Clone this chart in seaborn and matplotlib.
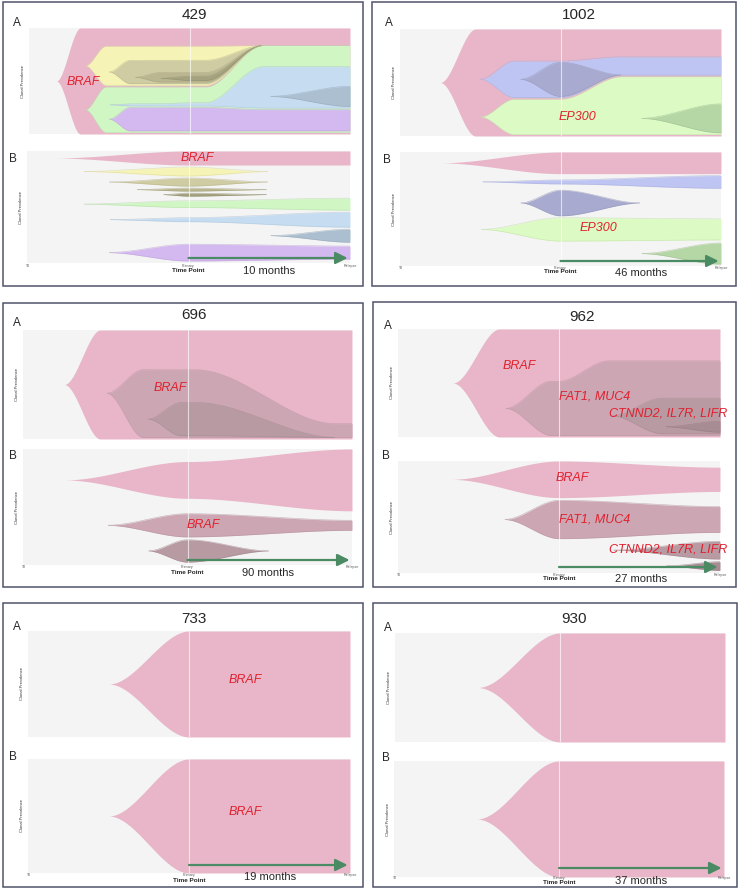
"""
Clonal evolution fish plots for six patients.
A: nested clonal prevalence, B: every clone on its own track.
Time axis: 0 = T0, 1 = Primary, 2 = Relapse.
"""

import numpy as np
import matplotlib
matplotlib.use('Agg')
import matplotlib.pyplot as plt
import seaborn as sns
from matplotlib.patches import Rectangle
from matplotlib.colors import to_rgb

nan = np.nan

# --- 1. Data ---

# patient 429
p429_knots = [0.17, 0.32, 0.35, 0.48, 0.50, 0.63, 0.66, 0.82, 1.0, 1.1, 1.46, 1.5, 2.0]
p429_parents = [-1, 0, 1, 2, 3, 0, 5, 6, 5]
p429_prev = [
    [0, 1, 1, 1, 1, 1, 1, 1, 1, 1, 1, 1, 1],
    [0, 0, 0, .37, .37, .37, .37, .37, .37, .37, 0, 0, 0],
    [0, 0, 0, 0, 0, .22, .22, .22, .22, .22, 0, 0, 0],
    [0, 0, 0, 0, 0, 0, 0, .09, .09, .09, 0, 0, 0],
    [0, 0, 0, 0, 0, 0, 0, 0, .04, .04, 0, 0, 0],
    [0, 0, 0, .43, .43, .43, .43, .43, .43, .43, .82, .82, .82],
    [0, 0, 0, 0, 0, .02, .02, .02, .03, .03, .39, .39, .39],
    [0, 0, 0, 0, 0, 0, 0, 0, 0, 0, 0, 0, .19],
    [0, 0, 0, 0, 0, .22, .22, .22, .22, .22, .2, .2, .2],
]
p429_b_start = [0.165, 0.34, 0.5, 0.67, 0.84, 0.34, 0.5, 1.5, 0.5]
p429_b_primary = [0.125, 0.08, 0.072, 0.027, 0.027, 0.06, 0.036, 0, 0.15]
p429_b_relapse = [0.125, 0, 0, 0, 0, 0.107, 0.134, 0.116, 0.116]
p429_b_end = [nan, 1.5, 1.5, 1.5, 1.5, nan, nan, nan, nan]
p429_colors = ['#E8B6C8', '#F6F3B6', '#CFCCA3', '#B9B690', '#A4A27F',
               '#D0F6C4', '#C6DDF1', '#ABBFD0', '#D4B8F0']
p429_months = 10

# patient 1002
p1002_knots = [0.25, 0.47, 0.50, 0.71, 0.75, 1.0, 1.38, 1.5, 2.0]
p1002_parents = [-1, 0, 1, 0, 3]
p1002_prev = [
    [0, 1, 1, 1, 1, 1, 1, 1, 1],
    [0, 0, 0, .34, .34, .34, .17, .17, .17],
    [0, 0, 0, 0, 0, .32, 0, 0, 0],
    [0, 0, 0, .33, .33, .33, .54, .54, .54],
    [0, 0, 0, 0, 0, 0, 0, 0, .27],
]
p1002_b_start = [0.25, 0.5, 0.75, 0.5, 1.5]
p1002_b_primary = [0.19, 0.035, 0.225, 0.205, 0]
p1002_b_relapse = [0.19, 0.111, 0, 0.185, 0.185]
p1002_b_end = [nan, nan, 1.5, nan, nan]
p1002_colors = ['#E8B6C8', '#BFC5F2', '#A8ABCF', '#DCFAC3', '#B5D6A5']
p1002_months = 46

# patient 696
p696_knots = [0.25, 0.47, 0.51, 0.73, 0.76, 0.96, 1.05, 1.9, 2.0]
p696_parents = [-1, 0, 1]
p696_prev = [
    [0, 1, 1, 1, 1, 1, 1, 1, 1],
    [0, 0, 0, .62, .62, .62, .62, .125, .125],
    [0, 0, 0, 0, 0, .305, .305, 0, 0],
]
p696_emerge = [nan, 0.58, nan]
p696_b_start = [0.25, 0.51, 0.76]
p696_b_primary = [0.317, 0.2, 0.193]
p696_b_relapse = [0.533, 0.086, 0]
p696_b_end = [nan, nan, 1.5]
p696_colors = ['#E8B6C8', '#CCA7B3', '#B89AA3']
p696_months = 90

# patient 962
p962_knots = [0.34, 0.63, 0.67, 0.95, 1.0, 1.31, 1.33, 1.64, 1.66, 2.0]
p962_parents = [-1, 0, 1, 2]
p962_prev = [
    [0, 1, 1, 1, 1, 1, 1, 1, 1, 1],
    [0, 0, 0, .5, .5, .69, .69, .69, .69, .69],
    [0, 0, 0, 0, 0, 0, 0, .33, .33, .33],
    [0, 0, 0, 0, 0, 0, 0, 0, 0, .1],
]
p962_b_start = [0.33, 0.66, 1.33, 1.66]
p962_b_primary = [0.327, 0.342, 0, 0]
p962_b_relapse = [0.217, 0.23, 0.158, 0.077]
p962_b_end = [nan, nan, nan, nan]
p962_colors = ['#E8B6C8', '#CCA7B3', '#B89AA3', '#A78C94']
p962_months = 27

# patient 733
p733_knots = [0.5, 1.0, 2.0]
p733_parents = [-1]
p733_prev = [[0, 1, 1]]
p733_b_start = [0.5]
p733_b_primary = [1.0]
p733_b_relapse = [1.0]
p733_b_end = [nan]
p733_colors = ['#E8B6C8']
p733_months = 19

# patient 930
p930_knots = [0.5, 1.0, 2.0]
p930_parents = [-1]
p930_prev = [[0, 1, 1]]
p930_b_start = [0.5]
p930_b_primary = [1.0]
p930_b_relapse = [1.0]
p930_b_end = [nan]
p930_colors = ['#E8B6C8']
p930_months = 37

# --- 2. Layout (pixels of the 738x889 canvas) ---
W, H = 738, 889
RED = '#E0202E'
BG = '#F4F4F4'
GAP = 0.015

panels = [
    dict(pid='429', knots=p429_knots, parents=p429_parents, prev=p429_prev, emerge=None,
         b=(p429_b_start, p429_b_primary, p429_b_relapse, p429_b_end),
         colors=p429_colors, months=p429_months,
         box=(3, 2, 363, 286), A=(29, 28, 350, 134), B=(27, 151, 350, 263),
         title=(194, 15), la=(17, 23), lb=(13, 159), arrow=258, mo=(269, 271),
         tick_y=266, tp_y=271, labels=[('BRAF', 83, 82), ('BRAF', 197, 158)]),
    dict(pid='1002', knots=p1002_knots, parents=p1002_parents, prev=p1002_prev, emerge=None,
         b=(p1002_b_start, p1002_b_primary, p1002_b_relapse, p1002_b_end),
         colors=p1002_colors, months=p1002_months,
         box=(372, 2, 736, 286), A=(400, 29, 721, 136), B=(400, 152, 721, 266),
         title=(579, 15), la=(389, 23), lb=(387, 160), arrow=261, mo=(641, 273),
         tick_y=268, tp_y=272, labels=[('EP300', 577, 117), ('EP300', 598, 228)]),
    dict(pid='696', knots=p696_knots, parents=p696_parents, prev=p696_prev, emerge=p696_emerge,
         b=(p696_b_start, p696_b_primary, p696_b_relapse, p696_b_end),
         colors=p696_colors, months=p696_months,
         box=(3, 303, 363, 587), A=(23, 330, 352, 439), B=(23, 449, 352, 565),
         title=(194, 315), la=(17, 323), lb=(13, 456), arrow=560, mo=(268, 573),
         tick_y=567, tp_y=573, labels=[('BRAF', 170, 388), ('BRAF', 203, 525)]),
    dict(pid='962', knots=p962_knots, parents=p962_parents, prev=p962_prev, emerge=None,
         b=(p962_b_start, p962_b_primary, p962_b_relapse, p962_b_end),
         colors=p962_colors, months=p962_months,
         box=(373, 302, 736, 587), A=(398, 329, 720, 437), B=(398, 461, 720, 573),
         title=(582, 317), la=(388, 326), lb=(386, 456), arrow=567, mo=(641, 579),
         tick_y=575, tp_y=579,
         labels=[('BRAF', 519, 366), ('FAT1, MUC4', 595, 397), ('CTNND2, IL7R, LIFR', 668, 413),
                 ('BRAF', 572, 478), ('FAT1, MUC4', 595, 519), ('CTNND2, IL7R, LIFR', 668, 549)]),
    dict(pid='733', knots=p733_knots, parents=p733_parents, prev=p733_prev, emerge=None,
         b=(p733_b_start, p733_b_primary, p733_b_relapse, p733_b_end),
         colors=p733_colors, months=p733_months,
         box=(3, 603, 363, 887), A=(28, 631, 350, 737), B=(28, 759, 350, 873),
         title=(194, 619), la=(17, 627), lb=(13, 757), arrow=865, mo=(270, 877),
         tick_y=875, tp_y=880, labels=[('BRAF', 245, 680), ('BRAF', 245, 812)]),
    dict(pid='930', knots=p930_knots, parents=p930_parents, prev=p930_prev, emerge=None,
         b=(p930_b_start, p930_b_primary, p930_b_relapse, p930_b_end),
         colors=p930_colors, months=p930_months,
         box=(373, 603, 737, 887), A=(395, 633, 725, 742), B=(394, 761, 724, 877),
         title=(574, 619), la=(388, 628), lb=(386, 758), arrow=868, mo=(641, 881),
         tick_y=878, tp_y=882, labels=[]),
]


# --- 3. Fish plot helpers ---
def smooth(xs, knots, vals):
    """Smoothstep interpolation between knots (works on 1D or 2D vals)."""
    knots = np.asarray(knots, float)
    vals = np.asarray(vals, float)
    idx = np.clip(np.searchsorted(knots, xs, side='right') - 1, 0, len(knots) - 2)
    u = np.clip((xs - knots[idx]) / (knots[idx + 1] - knots[idx]), 0, 1)
    w = u * u * (3 - 2 * u)
    return vals[..., idx] * (1 - w) + vals[..., idx + 1] * w


def layout_knot(p, parents):
    """Band (top, bottom) of every clone at one time point; children sit at the bottom."""
    n = len(p)
    top, bot = np.zeros(n), np.zeros(n)
    kids = [[j for j in range(n) if parents[j] == i] for i in range(n)]

    def place(i, t, b):
        top[i], bot[i] = t, b
        live = [k for k in kids[i] if p[k] > 0]
        own = (b - t) - sum(p[k] for k in live)
        g = min(GAP, max(own, 0) / (len(live) + 1)) if live else 0.0
        y = b
        for k in reversed(kids[i]):
            if p[k] > 0:
                y -= g
                place(k, y - p[k], y)
                y -= p[k]
            else:
                place(k, y, y)

    for r in range(n):
        if parents[r] < 0:
            place(r, 0.5 - p[r] / 2, 0.5 + p[r] / 2)
    return top, bot


def fish_edges(knots, prev, parents, emerge=None):
    prev = np.asarray(prev, float)
    n, m = prev.shape
    tops, bots = np.zeros((n, m)), np.zeros((n, m))
    for k in range(m):
        tops[:, k], bots[:, k] = layout_knot(prev[:, k], parents)
    # before a clone appears it sits at the middle of its first band
    for i in range(n):
        first = np.nonzero(prev[i] > 0)[0][0]
        c = (tops[i, first] + bots[i, first]) / 2
        if emerge is not None and not np.isnan(emerge[i]):
            c = emerge[i]
        for k in range(first):
            par = parents[i]
            cc = c if par < 0 else np.clip(c, tops[par, k], bots[par, k])
            tops[i, k] = bots[i, k] = cc
    return tops, bots


def darker(c, f=0.88):
    return tuple(v * f for v in to_rgb(c))


def edge_lines(ax, xs, lo, hi, color, live):
    for y in (lo, hi):
        sns.lineplot(x=xs[live], y=y[live], ax=ax, color=darker(color), lw=0.45,
                     alpha=0.65, estimator=None, sort=False, zorder=3)


def draw_nested(ax, d):
    tops, bots = fish_edges(d['knots'], d['prev'], d['parents'], d['emerge'])
    xs = np.linspace(d['knots'][0], 2, 900)
    T = smooth(xs, d['knots'], tops)
    B = smooth(xs, d['knots'], bots)
    for i, par in enumerate(d['parents']):
        live = (B[i] - T[i]) > 1e-4
        ax.fill_between(xs, T[i], B[i], where=live, color=d['colors'][i], lw=0, zorder=2)
        if par >= 0:
            edge_lines(ax, xs, T[i], B[i], d['colors'][i], live)


def draw_tracks(ax, d):
    start, prim, rel, end = d['b']
    xs = np.linspace(0, 2, 900)
    widths, peaks = [], []
    for s, a, b, e in zip(start, prim, rel, end):
        kx, kv = [s], [0.0]
        if s < 1:
            kx.append(1.0)
            kv.append(a)
        if np.isnan(e):
            kx.append(2.0)
            kv.append(b)
        else:
            kx.append(e)
            kv.append(0.0)
        widths.append(smooth(xs, kx, kv))
        peaks.append(max(kv))
    gap = (1 - sum(peaks)) / len(peaks)
    y = 0.0
    for i, (w, pk) in enumerate(zip(widths, peaks)):
        mid = y + pk / 2
        live = w > 1e-4
        ax.fill_between(xs, mid - w / 2, mid + w / 2, where=live,
                        color=d['colors'][i], lw=0, zorder=2)
        if d['parents'][i] >= 0:
            edge_lines(ax, xs, mid - w / 2, mid + w / 2, d['colors'][i], live)
        y += pk + gap


def add_axes_px(fig, rect):
    x0, y0, x1, y1 = rect
    ax = fig.add_axes([x0 / W, 1 - y1 / H, (x1 - x0) / W, (y1 - y0) / H])
    ax.set_xlim(0, 2)
    ax.set_ylim(1, 0)
    ax.set_facecolor(BG)
    return ax


def finish_axes(ax):
    ax.axvline(1, color='white', lw=0.8, alpha=0.65, zorder=5)
    ax.set_xticks([])
    ax.set_yticks([])
    ax.set_xlabel('')
    ax.set_ylabel('')
    for s in ax.spines.values():
        s.set_visible(False)


def ftext(fig, x, y, s, **kw):
    kw.setdefault('ha', 'center')
    kw.setdefault('va', 'center')
    fig.text(x / W, 1 - y / H, s, **kw)


# --- 4. Main ---
def main():
    sns.set_theme(style='white')
    plt.rcParams['font.family'] = ['Liberation Sans', 'DejaVu Sans']

    fig = plt.figure(figsize=(W / 100, H / 100), dpi=100)
    fig.patch.set_facecolor('white')

    for d in panels:
        x0, y0, x1, y1 = d['box']
        fig.add_artist(Rectangle((x0 / W, 1 - y1 / H), (x1 - x0) / W, (y1 - y0) / H,
                                 transform=fig.transFigure, fill=False,
                                 ec='#4F546A', lw=1.1, zorder=10))

        axA = add_axes_px(fig, d['A'])
        draw_nested(axA, d)
        finish_axes(axA)

        axB = add_axes_px(fig, d['B'])
        draw_tracks(axB, d)
        finish_axes(axB)

        # arrow from Primary to Relapse
        bx0, by0, bx1, by1 = d['B']
        ay = (d['arrow'] - by0) / (by1 - by0)
        axB.annotate('', xy=(1.985, ay), xytext=(1.0, ay),
                     arrowprops=dict(arrowstyle='-|>,head_length=0.6,head_width=0.3',
                                     color='#4A8B63', lw=1.6, shrinkA=0, shrinkB=0),
                     zorder=6, annotation_clip=False)

        # texts
        ftext(fig, *d['title'], d['pid'], fontsize=11)
        ftext(fig, *d['la'], 'A', fontsize=8.5)
        ftext(fig, *d['lb'], 'B', fontsize=8.5)
        for rect in (d['A'], d['B']):
            ftext(fig, rect[0] - 6, (rect[1] + rect[3]) / 2, 'Clonal Prevalence',
                  fontsize=3, rotation=90, color='#333333')
        mid = (bx0 + bx1) / 2
        ftext(fig, bx0 + 1, d['tick_y'], 'T0', fontsize=2.6, color='#555555')
        ftext(fig, mid, d['tick_y'], 'Primary', fontsize=2.6, color='#555555')
        ftext(fig, bx1, d['tick_y'], 'Relapse', fontsize=2.6, color='#555555')
        ftext(fig, mid, d['tp_y'], 'Time Point', fontsize=4.6, fontweight='bold')
        ftext(fig, *d['mo'], f"{d['months']} months", fontsize=8)
        for s, x, y in d['labels']:
            ftext(fig, x, y, s, fontsize=9, style='italic', color=RED, zorder=8)

    fig.savefig('out.png', dpi=100)
    plt.close(fig)


if __name__ == '__main__':
    main()
